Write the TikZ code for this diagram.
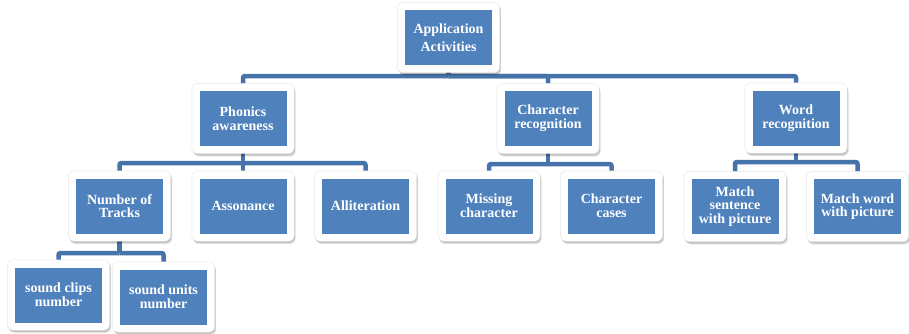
\documentclass[tikz,border=0pt]{standalone}
\usepackage{fontspec}
\setmainfont{Liberation Serif}
\usetikzlibrary{fit,backgrounds,shadows}
\pgfdeclarelayer{bottom}
\pgfsetlayers{bottom,background,main}
\definecolor{boxblue}{RGB}{79,129,189}
\definecolor{connblue}{RGB}{70,116,170}
\begin{document}
\begin{tikzpicture}[x=1pt,y=-1pt,
  inbox/.style={fill=boxblue, text=white, minimum width=87pt, minimum height=55pt,
    align=center, inner sep=1pt, font=\fontsize{14}{13.7}\selectfont\bfseries},
  outbox/.style={fill=white, draw=black!10, line width=0.4pt, rounded corners=6pt, inner sep=7.5pt,
    general shadow={shadow xshift=1.5pt, shadow yshift=-3pt, fill=black, opacity=.10},
    general shadow={shadow xshift=1pt, shadow yshift=-1.8pt, fill=black, opacity=.14}},
  conn/.style={draw=connblue, line width=4.5pt, rounded corners=2pt}]
\begin{pgfonlayer}{bottom}
\useasboundingbox[fill=white] (0,0) rectangle (909,333);
\end{pgfonlayer}

\node[inbox, font=\fontsize{14}{18}\selectfont\bfseries] (app) at (448.5,37.5) {Application\\Activities};
\node[inbox] (pho) at (243,118.5) {Phonics\\awareness};
\node[inbox] (chr) at (548,118.5) {Character\\recognition};
\node[inbox] (wrd) at (796,118) {Word\\recognition};
\node[inbox] (num) at (119.5,206) {Number of\\Tracks};
\node[inbox] (ass) at (243,206) {Assonance};
\node[inbox] (all) at (365.5,206) {Alliteration};
\node[inbox] (mis) at (489,206) {Missing\\character};
\node[inbox] (cas) at (611.5,206) {Character\\cases};
\node[inbox] (msp) at (735,206.5) {Match\\sentence\\with picture};
\node[inbox] (mwp) at (857.5,206.5) {Match word\\with picture};
\node[inbox] (scn) at (58.5,295) {sound clips\\number};
\node[inbox] (sun) at (163.5,297) {sound units\\number};

\begin{pgfonlayer}{background}
\coordinate (t1) at (448.5,76);
\coordinate (t2) at (243,163);
\coordinate (t3) at (548,164);
\coordinate (t4) at (796,162);
\coordinate (t5) at (119.5,253);
\draw[conn] (app) -- (t1);
\draw[conn] (t1) -| (pho);
\draw[conn] (t1) -| (chr);
\draw[conn] (t1) -| (wrd);
\draw[conn] (pho) -- (t2);
\draw[conn] (t2) -| (num);
\draw[conn] (t2) -- (ass);
\draw[conn] (t2) -| (all);
\draw[conn] (chr) -- (t3);
\draw[conn] (t3) -| (mis);
\draw[conn] (t3) -| (cas);
\draw[conn] (wrd) -- (t4);
\draw[conn] (t4) -| (msp);
\draw[conn] (t4) -| (mwp);
\draw[conn] (num) -- (t5);
\draw[conn] (t5) -| (scn);
\draw[conn] (t5) -| (sun);
\foreach \n in {app,pho,chr,wrd,num,ass,all,mis,cas,msp,mwp,scn,sun}
  \node[outbox, fit=(\n)] {};
\end{pgfonlayer}
\end{tikzpicture}
\end{document}
